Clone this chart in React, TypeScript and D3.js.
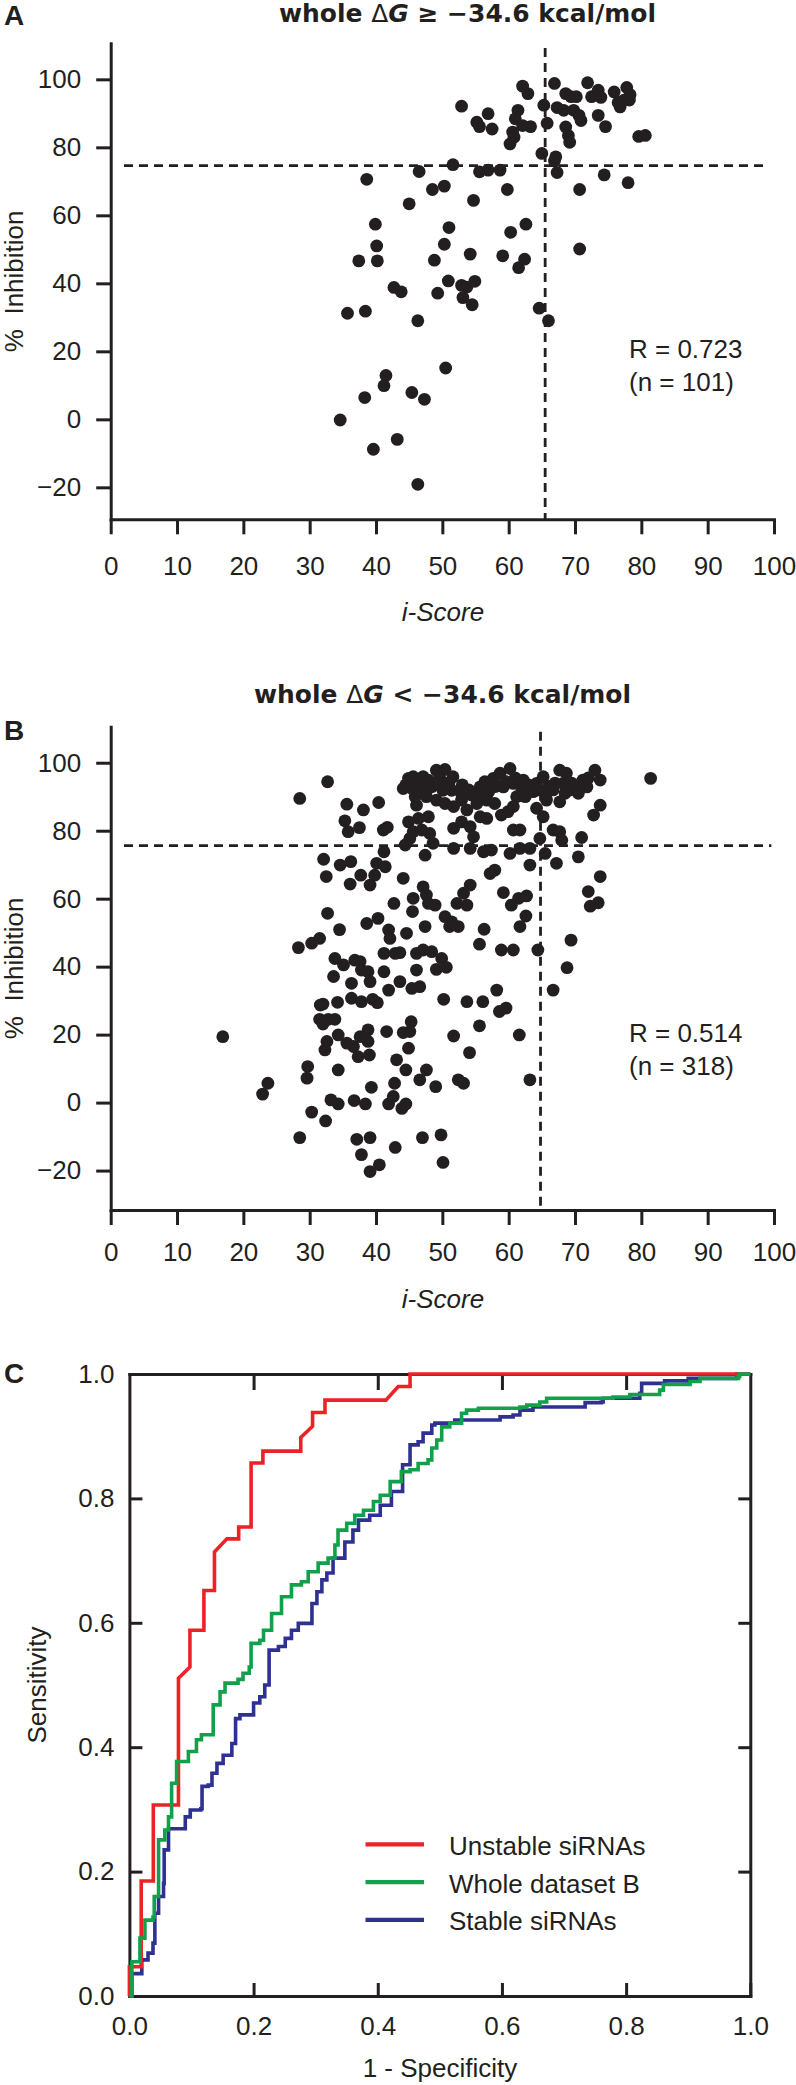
import { useEffect, useRef } from "react";
import * as d3 from "d3";

const FONT = "'Liberation Sans', Arial, Helvetica, sans-serif";
const TITLE_FONT = "'DejaVu Sans', Verdana, sans-serif";
const INK = "#231f20";

// tick values
const scoreTicks = [0, 10, 20, 30, 40, 50, 60, 70, 80, 90, 100];
const inhibitionTicks = [-20, 0, 20, 40, 60, 80, 100];
const rocTicks = [0, 0.2, 0.4, 0.6, 0.8, 1.0];
const rocInnerTicks = [0.2, 0.4, 0.6, 0.8];

// Panel A: whole dG >= -34.6 kcal/mol  [i-Score, % inhibition]
const panelAPoints: [number, number][] = [
	[52.9, 92.1], [62.1, 98.0], [62.9, 95.8], [66.9, 98.8], [65.3, 92.4], [67.3, 91.7],
	[61.4, 90.9], [65.8, 87.1], [61.0, 88.4], [62.1, 86.4], [63.3, 86.1], [60.6, 84.5],
	[60.2, 81.0], [60.8, 83.0], [55.2, 87.4], [55.6, 86.1], [56.9, 89.9], [57.5, 85.4],
	[68.6, 95.8], [69.4, 94.9], [70.2, 94.9], [68.3, 90.9], [69.8, 90.9], [70.6, 89.4],
	[70.9, 87.9], [68.6, 86.0], [69.0, 83.5], [69.2, 81.5], [71.9, 99.0], [72.5, 94.9],
	[73.5, 96.8], [73.9, 94.7], [73.5, 89.4], [74.6, 86.1], [75.9, 96.3], [77.8, 97.6],
	[76.8, 91.9], [77.4, 93.9], [78.2, 93.9], [79.6, 83.2], [80.6, 83.5], [65.0, 78.2],
	[67.1, 77.2], [66.9, 76.0], [67.3, 72.6], [74.4, 71.9], [78.0, 69.6], [70.7, 67.6],
	[70.7, 50.1], [51.6, 74.9], [55.6, 72.8], [56.9, 73.3], [58.7, 73.3], [59.8, 67.6],
	[38.6, 70.6], [46.5, 72.9], [48.5, 67.6], [50.3, 68.6], [45.0, 63.4], [54.7, 64.4],
	[39.9, 57.4], [62.6, 57.4], [60.3, 55.0], [51.0, 56.4], [40.1, 51.0], [50.3, 51.5],
	[37.4, 46.6], [40.2, 46.6], [48.8, 46.8], [54.2, 48.6], [59.1, 48.1], [62.4, 47.1],
	[61.5, 44.6], [50.9, 40.7], [42.7, 38.8], [43.8, 37.5], [49.3, 37.1], [52.9, 39.4],
	[53.7, 38.9], [54.9, 40.6], [53.1, 35.8], [54.5, 33.7], [35.7, 31.2], [38.4, 31.8],
	[46.3, 29.0], [64.6, 32.7], [66.0, 29.0], [50.5, 15.1], [41.5, 12.9], [41.2, 9.9],
	[38.3, 6.4], [45.4, 7.9], [47.3, 5.9], [34.6, -0.2], [39.6, -8.8], [43.2, -5.9],
	[46.3, -19.1], [76.5, 93.2], [78.3, 95.5],
];

// Panel B: whole dG < -34.6 kcal/mol  [i-Score, % inhibition]
const panelBPoints: [number, number][] = [
	[28.5, 89.5], [32.7, 94.4], [35.6, 87.8], [38.1, 86.1], [40.4, 88.3], [35.3, 82.9],
	[35.8, 79.7], [37.5, 80.9], [41.1, 80.2], [41.7, 81.0], [44.1, 92.4], [44.9, 95.4],
	[45.6, 95.9], [46.4, 94.9], [47.1, 95.9], [47.9, 94.9], [45.4, 92.4], [46.6, 91.9],
	[47.9, 92.4], [45.9, 90.0], [46.1, 87.5], [47.6, 90.0], [49.1, 97.8], [50.4, 98.0],
	[49.6, 95.4], [50.6, 93.9], [51.6, 95.9], [50.1, 91.9], [51.4, 91.9], [52.7, 91.5],
	[49.1, 89.0], [50.4, 88.0], [51.7, 87.1], [52.9, 89.0], [53.7, 86.1], [54.4, 90.5],
	[55.7, 92.9], [56.4, 94.4], [57.7, 95.4], [58.7, 96.9], [60.2, 98.3], [56.7, 89.0],
	[57.9, 88.0], [55.2, 88.0], [59.2, 92.9], [60.7, 93.9], [62.2, 94.9], [62.9, 92.4],
	[64.2, 93.9], [65.2, 95.9], [61.2, 90.0], [62.5, 90.0], [60.7, 87.1], [63.7, 91.5],
	[65.7, 91.0], [66.7, 92.0], [67.7, 97.8], [68.7, 96.9], [68.2, 93.9], [69.2, 92.0],
	[70.2, 92.4], [71.2, 94.9], [71.8, 92.9], [73.0, 97.8], [73.8, 94.9], [67.7, 88.5],
	[65.7, 89.0], [64.2, 86.6], [65.2, 84.1], [73.8, 87.5], [72.8, 84.6], [81.4, 95.4],
	[44.5, 93.5], [45.2, 94.0], [46.0, 93.0], [47.0, 93.5], [48.5, 93.0], [49.5, 93.5],
	[51.0, 94.0], [53.0, 93.5], [54.0, 92.0], [55.0, 91.0], [56.0, 90.5], [57.0, 91.5],
	[58.0, 93.0], [59.5, 94.5], [61.0, 95.5], [62.0, 92.0], [63.0, 93.5], [64.5, 92.0],
	[66.0, 93.0], [67.0, 94.0], [68.5, 91.0], [69.5, 94.0], [70.5, 91.0], [72.0, 95.5],
	[44.9, 82.6], [46.4, 83.6], [47.9, 84.1], [45.6, 79.7], [46.9, 80.2], [48.1, 79.2],
	[45.1, 77.7], [44.4, 75.8], [48.6, 76.3], [47.4, 72.8], [51.7, 80.7], [52.9, 82.6],
	[54.2, 81.2], [54.7, 78.2], [51.7, 74.8], [54.2, 74.8], [56.2, 73.8], [57.4, 74.3],
	[55.7, 84.1], [56.7, 83.6], [58.9, 84.6], [59.9, 85.6], [60.7, 80.2], [61.7, 80.2],
	[60.2, 73.3], [61.7, 74.8], [63.2, 74.8], [64.7, 77.7], [65.5, 73.3], [66.7, 80.2],
	[67.7, 79.7], [68.0, 77.2], [71.0, 78.0],
	[32.1, 71.6], [34.6, 69.9], [36.2, 70.9], [32.5, 66.5], [37.7, 66.9], [36.1, 64.3],
	[39.1, 64.0], [39.8, 66.9], [40.1, 70.4], [41.4, 69.4], [41.2, 73.8], [44.1, 66.0],
	[57.2, 67.4], [57.9, 68.4], [63.2, 69.9], [67.2, 70.4], [70.5, 72.3], [73.8, 66.5],
	[72.0, 62.1], [72.3, 57.8], [73.5, 58.8], [54.2, 64.0], [53.2, 61.6], [52.2, 58.6],
	[53.7, 58.1], [47.1, 63.5], [47.6, 61.1], [47.9, 58.6], [48.9, 58.1], [45.6, 60.1],
	[45.5, 56.2], [42.7, 58.6], [59.2, 61.8], [60.4, 58.1], [61.5, 60.1], [62.7, 60.8],
	[62.6, 54.9], [61.7, 51.8], [50.4, 54.7], [51.4, 53.2], [52.4, 51.8], [51.1, 51.8],
	[47.4, 51.8], [44.6, 49.8], [41.9, 50.8], [42.1, 48.3], [38.6, 52.7], [40.3, 54.2],
	[34.5, 50.9], [32.7, 55.7], [28.3, 45.6], [30.3, 46.9], [31.5, 48.3], [56.3, 51.0],
	[55.6, 46.6], [58.9, 44.9], [60.7, 44.9], [64.4, 44.9], [69.4, 47.8], [68.8, 39.7],
	[33.8, 42.4], [35.1, 40.5], [36.8, 41.9], [37.6, 41.5], [37.8, 39.0], [38.8, 38.5],
	[33.6, 37.1], [36.3, 35.1], [39.1, 35.6], [41.2, 43.9], [42.9, 43.9], [43.6, 44.1],
	[46.1, 43.9], [47.1, 44.9], [48.4, 44.4], [49.9, 42.4], [50.6, 39.8], [49.1, 39.2],
	[46.1, 39.0], [41.2, 38.5], [43.6, 35.6], [46.6, 34.1], [45.4, 33.6], [41.9, 33.1],
	[58.2, 33.1], [66.7, 33.1],
	[16.9, 19.4], [50.2, 30.4], [53.7, 29.7], [56.1, 29.7], [58.6, 26.8], [59.6, 27.8],
	[36.3, 30.7], [37.8, 29.7], [39.5, 30.4], [40.2, 29.4], [34.2, 29.5], [32.0, 29.0],
	[31.6, 28.7], [31.5, 24.5], [32.0, 23.1], [32.8, 24.5], [33.8, 24.5], [34.3, 19.9],
	[35.6, 17.5], [36.6, 16.5], [37.3, 13.5], [37.6, 19.4], [38.8, 21.4], [38.8, 18.0],
	[39.0, 14.0], [41.6, 20.9], [44.1, 20.6], [45.1, 20.9], [45.3, 23.8], [44.9, 16.0],
	[32.3, 15.5], [32.6, 18.0], [43.1, 12.6], [44.5, 9.6], [47.6, 9.6], [46.6, 6.7],
	[49.0, 4.7], [51.7, 19.6], [54.1, 14.7], [55.6, 22.6], [61.6, 19.9], [52.4, 6.7],
	[53.2, 5.7], [63.2, 6.7], [29.7, 10.6], [29.6, 7.2], [23.7, 5.7], [22.9, 2.5],
	[34.3, 9.6], [39.3, 4.5], [42.8, 5.7], [33.2, 0.8], [34.3, -0.4], [36.7, 0.6],
	[38.4, -0.4], [41.9, -0.4], [42.6, 1.8], [43.9, -1.7], [44.5, -0.4], [30.3, -2.8],
	[32.4, -5.4], [28.5, -10.3], [37.1, -10.8], [39.1, -10.3], [47.0, -10.3], [49.8, -9.5],
	[37.8, -15.3], [42.9, -13.2], [40.5, -18.3], [39.1, -20.3], [50.1, -17.6],
];

// Panel C: ROC curves [1 - specificity, sensitivity]
const rocUnstable: [number, number][] = [
	[0, 0], [0, 0.047], [0.019, 0.047], [0.019, 0.185], [0.0385, 0.185], [0.0385, 0.307],
	[0.079, 0.307], [0.079, 0.511], [0.0975, 0.529], [0.0975, 0.588], [0.12, 0.588],
	[0.12, 0.652], [0.137, 0.652], [0.137, 0.714], [0.157, 0.735], [0.176, 0.735],
	[0.176, 0.754], [0.196, 0.754], [0.196, 0.857], [0.215, 0.857], [0.215, 0.876],
	[0.276, 0.876], [0.276, 0.898], [0.295, 0.916], [0.295, 0.938], [0.315, 0.938],
	[0.315, 0.958], [0.413, 0.958], [0.433, 0.98], [0.452, 0.98], [0.452, 1], [1, 1],
];
const rocWhole: [number, number][] = [
	[0, 0], [0.004, 0.055], [0.017, 0.093], [0.025, 0.122], [0.038, 0.127], [0.04, 0.16],
	[0.047, 0.186], [0.047, 0.251], [0.057, 0.267], [0.063, 0.288], [0.068, 0.304],
	[0.068, 0.342], [0.076, 0.342], [0.076, 0.377], [0.087, 0.377], [0.095, 0.393],
	[0.108, 0.412], [0.116, 0.42], [0.131, 0.42], [0.135, 0.468], [0.146, 0.489],
	[0.154, 0.503], [0.175, 0.509], [0.183, 0.519], [0.193, 0.529], [0.196, 0.567],
	[0.21, 0.572], [0.216, 0.588], [0.229, 0.605], [0.229, 0.615], [0.245, 0.642],
	[0.261, 0.661], [0.277, 0.666], [0.288, 0.682], [0.304, 0.696], [0.32, 0.704],
	[0.331, 0.725], [0.336, 0.749], [0.35, 0.76], [0.363, 0.773], [0.377, 0.781],
	[0.393, 0.795], [0.404, 0.805], [0.42, 0.827], [0.438, 0.843], [0.452, 0.846],
	[0.465, 0.856], [0.481, 0.862], [0.487, 0.881], [0.495, 0.894], [0.503, 0.915],
	[0.516, 0.921], [0.535, 0.937], [0.543, 0.942], [0.562, 0.945], [0.629, 0.947],
	[0.64, 0.95], [0.661, 0.955], [0.672, 0.961], [0.779, 0.963], [0.806, 0.967],
	[0.854, 0.974], [0.86, 0.983], [0.903, 0.988], [0.919, 0.993], [0.981, 0.996],
	[0.983, 1], [1, 1],
];
const rocStable: [number, number][] = [
	[0, 0], [0.004, 0.036], [0.02, 0.036], [0.02, 0.058], [0.03, 0.069], [0.038, 0.085],
	[0.041, 0.133], [0.047, 0.16], [0.055, 0.181], [0.056, 0.235], [0.063, 0.262],
	[0.063, 0.269], [0.079, 0.269], [0.09, 0.288], [0.098, 0.299], [0.115, 0.301],
	[0.117, 0.337], [0.127, 0.339], [0.133, 0.358], [0.141, 0.374], [0.151, 0.387],
	[0.165, 0.406], [0.171, 0.42], [0.171, 0.446], [0.178, 0.452], [0.194, 0.452],
	[0.2, 0.471], [0.21, 0.481], [0.218, 0.5], [0.225, 0.529], [0.225, 0.556],
	[0.24, 0.562], [0.251, 0.575], [0.261, 0.588], [0.272, 0.599], [0.294, 0.605],
	[0.294, 0.631], [0.302, 0.631], [0.302, 0.65], [0.31, 0.669], [0.318, 0.68],
	[0.328, 0.704], [0.347, 0.706], [0.347, 0.73], [0.36, 0.741], [0.36, 0.749],
	[0.369, 0.765], [0.387, 0.773], [0.404, 0.789], [0.422, 0.797], [0.422, 0.811],
	[0.44, 0.813], [0.44, 0.854], [0.452, 0.859], [0.452, 0.886], [0.465, 0.891],
	[0.473, 0.905], [0.487, 0.918], [0.492, 0.921], [0.514, 0.921], [0.524, 0.926],
	[0.594, 0.926], [0.597, 0.931], [0.618, 0.934], [0.629, 0.942], [0.65, 0.947],
	[0.731, 0.947], [0.734, 0.954], [0.76, 0.955], [0.763, 0.961], [0.811, 0.961],
	[0.822, 0.969], [0.825, 0.985], [0.854, 0.985], [0.862, 0.989], [0.9, 0.993],
	[0.975, 0.993], [0.978, 1], [1, 1],
];

const rocLabels = ["Unstable siRNAs", "Whole dataset B", "Stable siRNAs"];
const rocColors = ["#ec2227", "#11a14a", "#2e3192"];

const drawScatter = (svg, p) => {
	const x = d3.scaleLinear().domain([0, 100]).range([110.7, 774]);
	const y = d3.scaleLinear().domain([p.yMin, p.yMax]).range([p.bottom, p.top]);

	// axes
	const xAxis = svg
		.append("g")
		.attr("transform", `translate(0,${p.bottom})`)
		.call(
			d3.axisBottom(x).tickValues(scoreTicks).tickFormat(d3.format("d"))
				.tickSizeInner(15).tickSizeOuter(0).tickPadding(p.xPad)
		);
	const yAxis = svg
		.append("g")
		.attr("transform", `translate(${x(0)},0)`)
		.call(
			d3.axisLeft(y).tickValues(inhibitionTicks).tickFormat(d3.format("d"))
				.tickSizeInner(14.5).tickSizeOuter(0).tickPadding(15)
		);
	[xAxis, yAxis].forEach((a) => {
		a.attr("font-family", FONT).attr("font-size", 26).attr("color", INK);
		a.selectAll("path, line").attr("stroke-width", 3);
		a.select(".domain").attr("stroke-linecap", "square");
	});

	// threshold lines
	svg.append("line")
		.attr("x1", x(p.vLine)).attr("x2", x(p.vLine))
		.attr("y1", y(p.vTop)).attr("y2", p.bottom)
		.attr("stroke", INK).attr("stroke-width", 2.8).attr("stroke-dasharray", "9,6");
	svg.append("line")
		.attr("x1", x(2)).attr("x2", x(p.hRight))
		.attr("y1", y(p.hLine)).attr("y2", y(p.hLine))
		.attr("stroke", INK).attr("stroke-width", 2.8).attr("stroke-dasharray", "9,6");

	// points
	svg.append("g")
		.selectAll("circle")
		.data(p.points)
		.join("circle")
		.attr("cx", (d) => x(d[0]))
		.attr("cy", (d) => y(d[1]))
		.attr("r", 6.4)
		.attr("fill", INK);

	// title
	const title = svg.append("text")
		.attr("x", p.titleX).attr("y", p.titleY)
		.attr("font-family", TITLE_FONT).attr("font-size", 25).attr("font-weight", "bold")
		.attr("fill", INK)
		.attr("textLength", 377).attr("lengthAdjust", "spacingAndGlyphs")
		.style("white-space", "pre");
	title.append("tspan").text("whole ");
	title.append("tspan").attr("font-weight", "normal").text("\u0394");
	title.append("tspan").attr("font-style", "italic").text("G");
	title.append("tspan").text(` ${p.sign} \u221234.6 kcal/mol`);

	// panel letter
	svg.append("text")
		.attr("x", 4).attr("y", p.letterY)
		.attr("font-family", FONT).attr("font-size", 28).attr("font-weight", "bold")
		.attr("fill", INK).text(p.letter);

	// axis titles
	svg.append("text")
		.attr("transform", `translate(22.5,${(p.top + p.bottom) / 2}) rotate(-90)`)
		.attr("text-anchor", "middle")
		.attr("font-family", FONT).attr("font-size", 26).attr("fill", INK)
		.style("white-space", "pre")
		.text("%  Inhibition");
	svg.append("text")
		.attr("x", 443).attr("y", p.xTitleY)
		.attr("text-anchor", "middle")
		.attr("font-family", FONT).attr("font-size", 26).attr("font-style", "italic")
		.attr("fill", INK).text("i-Score");

	// correlation note
	p.note.forEach((t, i) => {
		svg.append("text")
			.attr("x", 629).attr("y", p.noteY + i * 32.5)
			.attr("font-family", FONT).attr("font-size", 26).attr("fill", INK)
			.text(t);
	});
};

const drawRoc = (svg) => {
	const x = d3.scaleLinear().domain([0, 1]).range([129.4, 750.3]);
	const y = d3.scaleLinear().domain([0, 1]).range([1996, 1374]);
	const fmt = d3.format(".1f");

	const axes = [
		svg.append("g").attr("transform", `translate(0,${y(0)})`)
			.call(d3.axisBottom(x).tickValues(rocTicks).tickFormat(fmt).tickSizeInner(-13).tickSizeOuter(0).tickPadding(21)),
		svg.append("g").attr("transform", `translate(${x(0)},0)`)
			.call(d3.axisLeft(y).tickValues(rocTicks).tickFormat(fmt).tickSizeInner(-13).tickSizeOuter(0).tickPadding(15)),
		svg.append("g").attr("transform", `translate(0,${y(1)})`)
			.call(d3.axisTop(x).tickValues(rocInnerTicks).tickFormat(() => "").tickSizeInner(-16).tickSizeOuter(0)),
		svg.append("g").attr("transform", `translate(${x(1)},0)`)
			.call(d3.axisRight(y).tickValues(rocInnerTicks).tickFormat(() => "").tickSizeInner(-12).tickSizeOuter(0)),
	];
	axes.forEach((a) => {
		a.attr("font-family", FONT).attr("font-size", 26).attr("color", INK);
		a.selectAll("path, line").attr("stroke-width", 3);
		a.select(".domain").attr("stroke-linecap", "square");
	});

	// unstable set has explicit steps; the larger sets are drawn as stairs
	const straight = d3.line().x((d) => x(d[0])).y((d) => y(d[1]));
	const stairs = d3.line().x((d) => x(d[0])).y((d) => y(d[1])).curve(d3.curveStepAfter);
	// draw order: stable, unstable, whole
	[[rocStable, 2, stairs], [rocUnstable, 0, straight], [rocWhole, 1, stairs]].forEach(([data, i, gen]) => {
		svg.append("path")
			.datum(data)
			.attr("d", gen)
			.attr("fill", "none")
			.attr("stroke", rocColors[i])
			.attr("stroke-width", 3.6)
			.attr("stroke-linejoin", "miter");
	});

	// legend
	rocLabels.forEach((label, i) => {
		const ly = 1844.3 + i * 37.8;
		svg.append("line")
			.attr("x1", 365.5).attr("x2", 424).attr("y1", ly).attr("y2", ly)
			.attr("stroke", rocColors[i]).attr("stroke-width", 4.2);
		svg.append("text")
			.attr("x", 449).attr("y", ly + 10.5)
			.attr("font-family", FONT).attr("font-size", 26).attr("fill", INK)
			.text(label);
	});

	svg.append("text")
		.attr("x", 4).attr("y", 1383)
		.attr("font-family", FONT).attr("font-size", 28).attr("font-weight", "bold")
		.attr("fill", INK).text("C");
	svg.append("text")
		.attr("transform", `translate(46,${(y(0) + y(1)) / 2}) rotate(-90)`)
		.attr("text-anchor", "middle")
		.attr("font-family", FONT).attr("font-size", 26).attr("fill", INK)
		.text("Sensitivity");
	svg.append("text")
		.attr("x", 440).attr("y", 2077)
		.attr("text-anchor", "middle")
		.attr("font-family", FONT).attr("font-size", 26).attr("fill", INK)
		.text("1 - Specificity");
};

const App = () => {
	const svgRef = useRef(null);

	useEffect(() => {
		const svg = d3.select(svgRef.current);
		svg.selectAll("*").remove();

		drawScatter(svg, {
			points: panelAPoints,
			yMin: -29.4, yMax: 110.6, top: 43.3, bottom: 519.3,
			xPad: 22.5, xTitleY: 621,
			vLine: 65.5, vTop: 109.2, hLine: 74.6, hRight: 98.5,
			titleX: 279, titleY: 22, sign: "\u2265",
			letter: "A", letterY: 25,
			note: ["R = 0.723", "(n = 101)"], noteY: 358.3,
		});
		drawScatter(svg, {
			points: panelBPoints,
			yMin: -31.6, yMax: 110.6, top: 726.7, bottom: 1210,
			xPad: 18, xTitleY: 1308,
			vLine: 64.8, vTop: 109.1, hLine: 75.6, hRight: 99.6,
			titleX: 254, titleY: 703, sign: "<",
			letter: "B", letterY: 740,
			note: ["R = 0.514", "(n = 318)"], noteY: 1042,
		});
		drawRoc(svg);

		return () => {
			svg.selectAll("*").remove();
		};
	}, []);

	return (
		<svg
			ref={svgRef}
			width={796}
			height={2085}
			style={{ position: "absolute", left: 0, top: 0, background: "#fff" }}
		></svg>
	);
};

export default App;
